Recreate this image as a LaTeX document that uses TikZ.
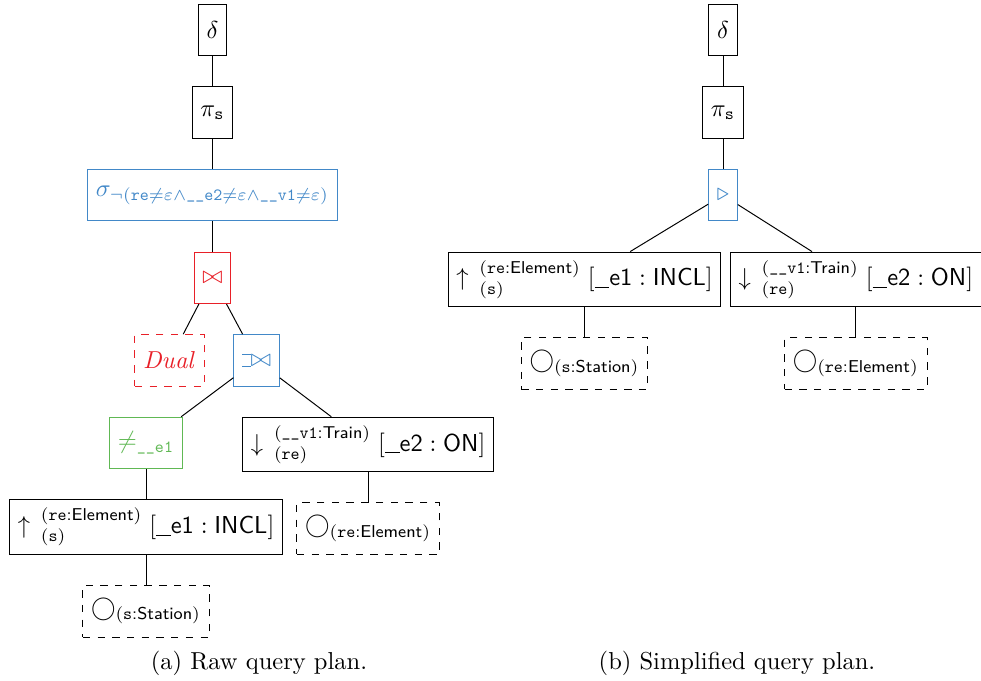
\documentclass[tikz,border=0pt]{standalone}
\usepackage{amsmath}
\usepackage{amssymb}
\usepackage{tikz}
\usetikzlibrary{positioning}
\definecolor{planblue}{RGB}{66,136,200}
\definecolor{planred}{RGB}{232,32,40}
\definecolor{plangreen}{RGB}{96,184,84}
\DeclareFontFamily{OT1}{vcmtt}{\hyphenchar\font=-1}
\DeclareFontShape{OT1}{vcmtt}{m}{n}{<-> cmtt10}{}
\newcommand{\ojoinbar}{\rule[-0.03ex]{.35em}{.4pt}\llap{\rule[1.12ex]{.35em}{.4pt}}}
\newcommand{\lojoin}{\mathbin{\ojoinbar\mkern-5mu\bowtie}}
\newcommand{\vname}[1]{\text{\fontencoding{OT1}\fontfamily{vcmtt}\selectfont #1}}
\newcommand{\vus}{\char95\relax}
\newcommand{\lowbar}{\rule[-0.2ex]{0.6em}{0.35pt}}
\newcommand{\expand}[4]{#1\,{}^{(#2)}_{(#3)}\;[#4]}
\tikzset{
  node distance=12.3pt,
  op/.style={draw,minimum height=21pt,inner sep=3.33pt},
  scan/.style={op,dashed},
  blueop/.style={op,draw=planblue,text=planblue},
  redop/.style={op,draw=planred,text=planred},
  redscan/.style={scan,draw=planred,text=planred},
  greenop/.style={op,draw=plangreen,text=plangreen}
}
\begin{document}
\begin{tikzpicture}[x=0.408pt,y=-0.408pt]
      \useasboundingbox (0,0) rectangle (981,681);
      % raw plan
      \node[op] (delta) at (212.5,30) {$\delta$};
      \node[op,below=of delta] (proj) {$\pi_{\vname{s}}$};
      \node[blueop,below=of proj] (select) {$\sigma_{\neg(\vname{re}\neq\varepsilon\wedge\vname{\vus\vus e2}\neq\varepsilon\wedge\vname{\vus\vus v1}\neq\varepsilon)}$};
      \node[redop,below=of select] (join) {$\bowtie$};
      \node[redscan,below=of join,xshift=-17.5pt] (dual) {$\mathit{Dual}$};
      \node[blueop,below=of join,xshift=18pt] (ojoin) {$\lojoin$};
      \node[greenop,below=of ojoin,xshift=-45.1pt] (neq) {$\neq_{\vname{\vus\vus e1}}$};
      \node[op,below=of ojoin,xshift=45.5pt] (expdown) {$\expand{\downarrow}{\vname{\vus\vus v1}\textsf{:Train}}{\vname{re}}{\textsf{\lowbar e2} : \textsf{ON}}$};
      \node[scan,below=of expdown] (allre) {$\bigcirc_{(\vname{re}\textsf{:Element})}$};
      \node[op,below=of neq] (expup) {$\expand{\uparrow}{\vname{re}\textsf{:Element}}{\vname{s}}{\textsf{\lowbar e1} : \textsf{INCL}}$};
      \node[scan,below=of expup] (alls) {$\bigcirc_{(\vname{s}\textsf{:Station})}$};
      % simplified plan
      \node[op] (delta2) at (723,30) {$\delta$};
      \node[op,below=of delta2] (proj2) {$\pi_{\vname{s}}$};
      \node[blueop,below=of proj2] (semi) {$\triangleright$};
      \node[op,below=of semi,xshift=-56.5pt] (expup2) {$\expand{\uparrow}{\vname{re}\textsf{:Element}}{\vname{s}}{\textsf{\lowbar e1} : \textsf{INCL}}$};
      \node[scan,below=of expup2] (alls2) {$\bigcirc_{(\vname{s}\textsf{:Station})}$};
      \node[op,below=of semi,xshift=54.2pt] (expdown2) {$\expand{\downarrow}{\vname{\vus\vus v1}\textsf{:Train}}{\vname{re}}{\textsf{\lowbar e2} : \textsf{ON}}$};
      \node[scan,below=of expdown2] (allre2) {$\bigcirc_{(\vname{re}\textsf{:Element})}$};
      \begin{scope}
        \draw (delta) -- (proj);
        \draw (proj) -- (select);
        \draw (select) -- (join);
        \draw (join) -- (dual);
        \draw (join) -- (ojoin);
        \draw (ojoin) -- (neq);
        \draw (ojoin) -- (expdown);
        \draw (expdown) -- (allre);
        \draw (neq) -- (expup);
        \draw (expup) -- (alls);
      \end{scope}
      \begin{scope}
        \draw (delta2) -- (proj2);
        \draw (proj2) -- (semi);
        \draw (semi) -- (expup2);
        \draw (semi) -- (expdown2);
        \draw (expup2) -- (alls2);
        \draw (expdown2) -- (allre2);
      \end{scope}
      % captions
      \node (capa) at (259,663) {(a) Raw query plan.};
      \node (capb) at (737,663) {(b) Simplified query plan.};
    \end{tikzpicture}
\end{document}
